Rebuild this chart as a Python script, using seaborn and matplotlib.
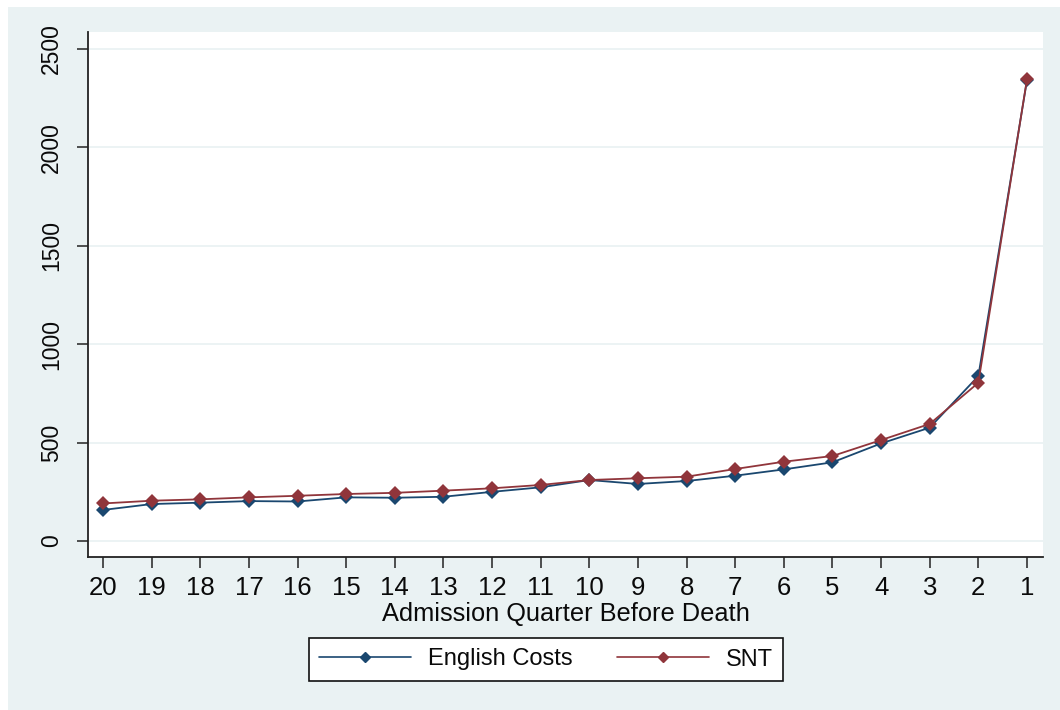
import matplotlib
matplotlib.use("Agg")
import matplotlib.pyplot as plt
import seaborn as sns
import pandas as pd
from matplotlib.patches import Rectangle

# Quarters before death (20 = earliest, 1 = last quarter)
quarters = list(range(20, 0, -1))
english_costs = [158, 188, 195, 203, 201, 222, 220, 225, 250, 273,
                 310, 290, 305, 332, 364, 400, 496, 576, 838, 2340]
snt_costs = [191, 205, 212, 222, 230, 239, 245, 256, 268, 285,
             310, 319, 327, 366, 403, 432, 513, 595, 804, 2345]
series_names = ["English Costs", "SNT"]
series_colors = ["#1a476f", "#90353b"]
y_ticks = [0, 500, 1000, 1500, 2000, 2500]

df = pd.DataFrame({
    "quarter": quarters * 2,
    "cost": english_costs + snt_costs,
    "series": [series_names[0]] * len(quarters) + [series_names[1]] * len(quarters),
})

sns.set_theme(style="white")
plt.rcParams["font.family"] = ["Liberation Sans", "DejaVu Sans"]
plt.rcParams["text.color"] = "#0a0a0a"
plt.rcParams["xtick.color"] = "#0a0a0a"
plt.rcParams["ytick.color"] = "#0a0a0a"
plt.rcParams["axes.labelcolor"] = "#0a0a0a"

bg = "#eaf2f3"
fig = plt.figure(figsize=(10.6, 7.1), dpi=100, facecolor=bg)
# thin white margin along the top and left edges of the graph region
fig.patches.append(Rectangle((0, 1 - 7 / 710), 1, 7 / 710, transform=fig.transFigure,
                             facecolor="white", edgecolor="none", zorder=-5))
fig.patches.append(Rectangle((0, 0), 8 / 1060, 1, transform=fig.transFigure,
                             facecolor="white", edgecolor="none", zorder=-5))

ax = fig.add_axes([88 / 1060, 1 - 557 / 710, (1043 - 88) / 1060, (557 - 32) / 710])
ax.set_facecolor("white")

sns.lineplot(data=df, x="quarter", y="cost", hue="series", hue_order=series_names,
             palette=series_colors, marker="D", markersize=7.5, markeredgewidth=0,
             linewidth=1.3, ax=ax, legend=False, zorder=3)

ax.set_xlim(20.31, 0.67)
ax.set_ylim(-81, 2586)
ax.set_xticks(quarters)
ax.set_xticklabels([str(q) for q in quarters])
ax.set_yticks(y_ticks)
ax.set_yticklabels([str(v) for v in y_ticks], rotation=90, va="center")

for yv in y_ticks:
    ax.axhline(yv, color=bg, linewidth=1.3, zorder=1)

for side in ["top", "right"]:
    ax.spines[side].set_visible(False)
for side in ["left", "bottom"]:
    ax.spines[side].set_color("#222222")
    ax.spines[side].set_linewidth(1.3)

ax.tick_params(axis="x", direction="out", length=8, width=1.1, color="#222222",
               labelsize=18.5, pad=6, bottom=True)
ax.tick_params(axis="y", direction="out", length=8, width=1.1, color="#222222",
               labelsize=16.5, pad=10, left=True)
ax.set_xlabel("Admission Quarter Before Death", fontsize=18.3, labelpad=1)
ax.set_ylabel("")

handles = [plt.Line2D([], [], color=c, marker="D", markersize=5, linewidth=1.2)
           for c in series_colors]
leg = fig.legend(handles, series_names, loc="center",
                 bbox_to_anchor=(546 / 1060, 1 - 659.5 / 710), ncol=2,
                 fontsize=17, frameon=True, fancybox=False, framealpha=1,
                 handlelength=3.9, handletextpad=0.7, columnspacing=1.9,
                 borderpad=0.45)
leg.get_frame().set_edgecolor("#111111")
leg.get_frame().set_linewidth(1.2)
leg.get_frame().set_facecolor("white")

fig.savefig("out.png", dpi=100, facecolor=fig.get_facecolor())
